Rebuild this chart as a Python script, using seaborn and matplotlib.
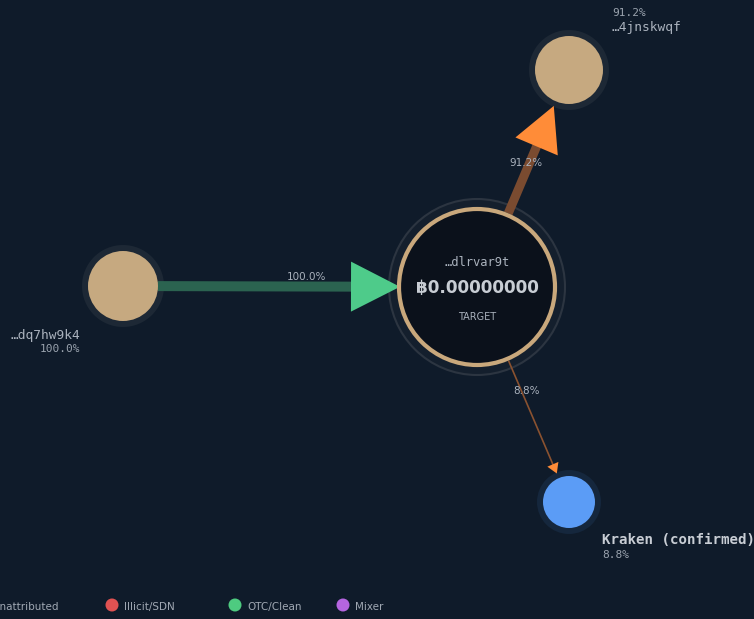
import numpy as np
import pandas as pd
import matplotlib
matplotlib.use('Agg')
import matplotlib.pyplot as plt
from matplotlib.patches import Polygon, Circle
import seaborn as sns

# graph data
node_ids = ['target', 'src1', 'dst1', 'kraken']
node_x = [477, 123, 569, 569]
node_y = [287, 286, 70, 502]
node_r = [78, 35, 34, 26]
node_colors = ['#0b111b', '#c6a980', '#c6a980', '#5b9cf6']
node_names = ['…dlrvar9t', '…dq7hw9k4', '…4jnskwqf', 'Kraken (confirmed)']
node_pct = ['', '100.0%', '91.2%', '8.8%']

edge_from = ['src1', 'target', 'target']
edge_to = ['target', 'dst1', 'kraken']
edge_share = [100.0, 91.2, 8.8]

legend_labels = ['Unattributed', 'Illicit/SDN', 'OTC/Clean', 'Mixer']
legend_colors = ['#c6a980', '#e05252', '#4ecb80', '#b565e0']

BG = '#0f1b2a'
MONO = 'DejaVu Sans Mono'

sns.set_theme(style='white')
plt.rcParams['font.family'] = ['DejaVu Sans', 'Noto Sans']

fig = plt.figure(figsize=(7.54, 6.19), dpi=100, facecolor=BG)
ax = fig.add_axes([0, 0, 1, 1])
ax.set_facecolor(BG)
ax.set_xlim(0, 754)
ax.set_ylim(619, 0)
ax.set_aspect('equal')
ax.axis('off')

nodes = pd.DataFrame({'id': node_ids, 'x': node_x, 'y': node_y, 'r': node_r,
                      'color': node_colors})
pos = nodes.set_index('id')

# target ring / halo
t = pos.loc['target']
ax.add_patch(Circle((t.x, t.y), 88, fc='#141f2d', ec='#2c3541', lw=1.5, zorder=1))

# halos for other nodes
others = nodes[nodes.id != 'target']
halo_colors = ['#1d2835', '#1d2835', '#15273d']
for (_, row), hc in zip(others.iterrows(), halo_colors):
    ax.add_patch(Circle((row.x, row.y), row.r + 6, fc=hc, ec='none', zorder=1.5))

# edges
edge_colors = ['#2b6350', '#7a4b30', '#8a5230']
head_colors = ['#4ecb8a', '#ff8c38', '#ff8c38']
edge_widths = [7.2, 6.5, 1.2]
head_len = [49, 44, 10]
head_half = [25, 23, 6]
halo_gap = [0, 6, 6]
label_off = [(7, -10), (3, -15), (3, -3)]
for i in range(len(edge_from)):
    a = pos.loc[edge_from[i]]
    b = pos.loc[edge_to[i]]
    d = np.array([b.x - a.x, b.y - a.y], dtype=float)
    L = np.hypot(*d)
    u = d / L
    nrm = np.array([-u[1], u[0]])
    start = np.array([a.x, a.y]) + u * (a.r + (2 if edge_from[i] == 'target' else 0))
    tip = np.array([b.x, b.y]) - u * (b.r + halo_gap[i] - 1)
    base = tip - u * head_len[i]
    ax.plot([start[0], base[0] + u[0] * 2], [start[1], base[1] + u[1] * 2],
            color=edge_colors[i], lw=edge_widths[i], solid_capstyle='butt', zorder=2)
    tri = [tip, base + nrm * head_half[i], base - nrm * head_half[i]]
    ax.add_patch(Polygon(tri, closed=True, color=head_colors[i], zorder=3, lw=0))
    mx, my = (a.x + b.x) / 2 + label_off[i][0], (a.y + b.y) / 2 + label_off[i][1]
    ax.text(mx, my, f'{edge_share[i]:.1f}%', color='#aab2bd', fontsize=7.5,
            ha='center', va='center', zorder=6)

ax.add_patch(Circle((t.x, t.y), 78, fc='#0b111b', ec='#c9a87c', lw=3, zorder=4))

sizes = [(2 * r * 0.72) ** 2 for r in others.r]
sns.scatterplot(data=others, x='x', y='y', hue='id', palette=list(others.color),
                size='id', sizes=dict(zip(others.id, sizes)), legend=False,
                linewidth=0, ax=ax, zorder=5)
ax.set_xlim(0, 754)
ax.set_ylim(619, 0)

# target text
ax.text(t.x, 262, node_names[0], color='#aab2bd', fontsize=8.7, family=MONO,
        ha='center', va='center', zorder=6)
ax.text(t.x, 288, '฿0.00000000', color='#c8cdd4', fontsize=12.2, weight='bold',
        family=['DejaVu Sans', 'Noto Sans'], ha='center', va='center', zorder=6)
ax.text(t.x, 317, 'TARGET', color='#aab2bd', fontsize=7, ha='center', va='center', zorder=6)

# node labels
ax.text(80, 335, node_names[1], color='#aab2bd', fontsize=9.3, family=MONO,
        ha='right', va='center', zorder=6)
ax.text(80, 349, node_pct[1], color='#9aa3ae', fontsize=8, family=MONO,
        ha='right', va='center', zorder=6)
ax.text(612, 13, node_pct[2], color='#9aa3ae', fontsize=8, family=MONO,
        ha='left', va='center', zorder=6)
ax.text(612, 27, node_names[2], color='#aab2bd', fontsize=9.3, family=MONO,
        ha='left', va='center', zorder=6)
ax.text(602, 540, node_names[3], color='#c8cdd4', fontsize=10.2, family=MONO,
        weight='bold', ha='left', va='center', zorder=6)
ax.text(602, 555, node_pct[3], color='#9aa3ae', fontsize=8, family=MONO,
        ha='left', va='center', zorder=6)

# legend strip
leg_x = [-20, 112, 235, 343]
for lx, lab, col in zip(leg_x, legend_labels, legend_colors):
    ax.add_patch(Circle((lx, 605), 6.5, fc=col, ec='none', zorder=6))
    ax.text(lx + 12, 607, lab, color='#a0a8b3', fontsize=7.5,
            ha='left', va='center', zorder=6)

fig.savefig('out.png', dpi=100, facecolor=BG)
